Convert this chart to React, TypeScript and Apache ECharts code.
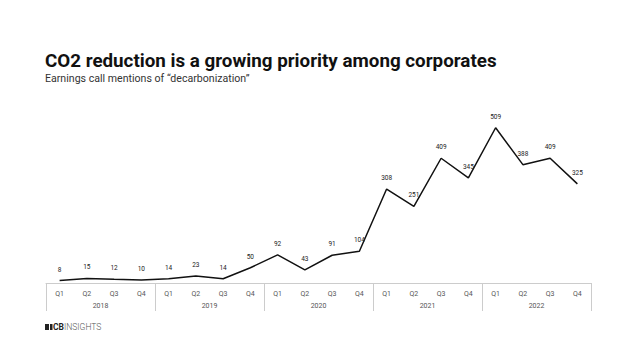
import React, { useEffect, useRef } from "react";
import * as echarts from "echarts";

const quarters = ["Q1","Q2","Q3","Q4","Q1","Q2","Q3","Q4","Q1","Q2","Q3","Q4","Q1","Q2","Q3","Q4","Q1","Q2","Q3","Q4"];
const years = ["2018","2019","2020","2021","2022"];
const mentions = [8,15,12,10,14,23,14,50,92,43,91,104,308,251,409,345,509,388,409,325];

export default function App() {
  const ref = useRef<HTMLDivElement>(null);
  useEffect(() => {
    const chart = echarts.init(ref.current!, null, { renderer: "svg" });
    const font = "Roboto";
    chart.setOption({
      animation: false,
      backgroundColor: "#ffffff",
      textStyle: { fontFamily: font },
      title: [
        {
          text: "CO2 reduction is a growing priority among corporates",
          left: 40, top: 46,
          textStyle: { fontSize: 18.8, fontWeight: "bold", color: "#111", fontFamily: font },
        },
        {
          text: "Earnings call mentions of \u201cdecarbonization\u201d",
          left: 40, top: 68,
          textStyle: { fontSize: 10.6, fontWeight: "normal", color: "#333", fontFamily: font },
        },
      ],
      grid: { left: 46, right: 47, top: 100, bottom: 76 },
      xAxis: [
        {
          type: "category",
          data: quarters.map((q, i) => i + ":" + q),
          boundaryGap: true,
          axisLine: { show: true, lineStyle: { color: "#cccccc", width: 1 } },
          axisTick: { show: false },
          axisLabel: { interval: 0, formatter: (v: string) => v.split(":")[1], fontSize: 7, color: "#555", margin: 7 },
        },
        {
          type: "category",
          data: years,
          position: "bottom",
          boundaryGap: true,
          axisLine: { show: false },
          axisTick: { show: true, length: 28, interval: 0, lineStyle: { color: "#cccccc", width: 1 } },
          axisLabel: { interval: 0, fontSize: 7, color: "#555", margin: 19 },
        },
      ],
      yAxis: { type: "value", min: 0, max: 600, show: false, splitLine: { show: false } },
      series: [
        {
          type: "line",
          data: mentions,
          xAxisIndex: 0,
          symbol: "circle",
          symbolSize: 1,
          showSymbol: true,
          itemStyle: { color: "rgba(0,0,0,0)" },
          lineStyle: { color: "#111", width: 1.5 },
          label: { show: true, position: "top", fontSize: 6.5, color: "#222", distance: 7, textBorderWidth: 0, textBorderColor: "transparent" },
          labelLayout: { hideOverlap: false },
        },
      ],
      graphic: [
        { type: "rect", shape: { x: 45, y: 324, width: 4, height: 6 }, style: { fill: "#222" } },
        { type: "rect", shape: { x: 50, y: 324, width: 2.5, height: 6 }, style: { fill: "#222" } },
        { type: "text", x: 53, y: 322.5, style: { text: "CB", fontSize: 8.5, fontWeight: "bold", fill: "#222", fontFamily: font } },
        { type: "text", x: 64, y: 322.5, style: { text: "INSIGHTS", fontSize: 8.5, fontWeight: 300, fill: "#555", fontFamily: font } },
      ],
    });
    return () => chart.dispose();
  }, []);
  return <div ref={ref} style={{ width: 638, height: 359, position: "absolute", left: 0, top: 0 }} />;
}
